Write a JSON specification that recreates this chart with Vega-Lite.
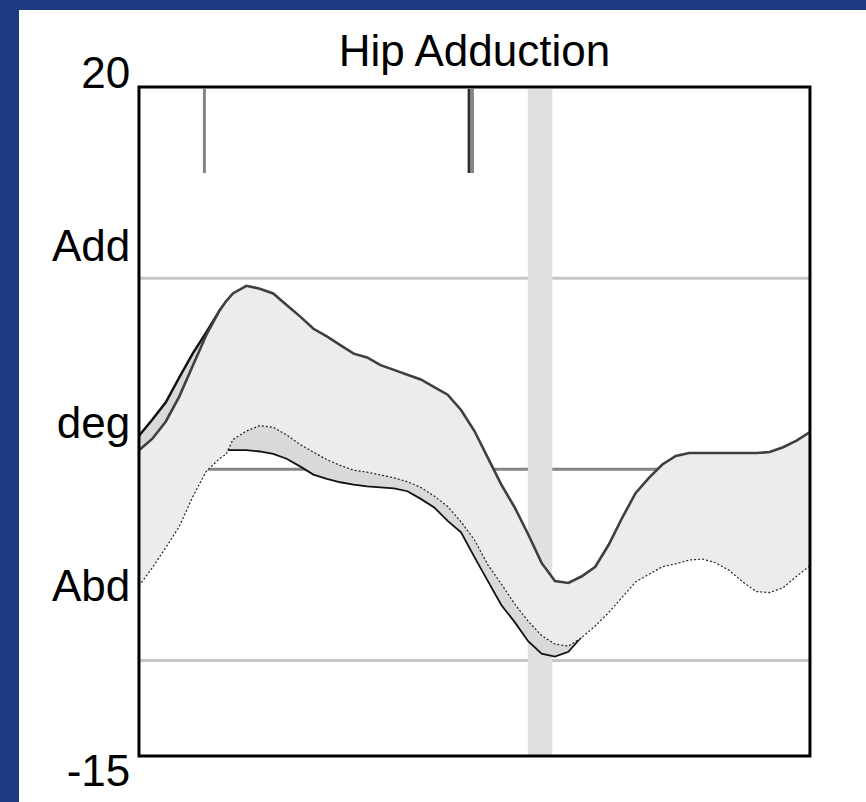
{
  "$schema": "https://vega.github.io/schema/vega-lite/v6.json",
  "autosize": {"type": "none"},
  "padding": {"left": 19, "top": 10, "right": 0, "bottom": 0},
  "width": 847,
  "height": 792,
  "background": "#1B3A80",
  "config": {"view": {"fill": "white", "stroke": null}, "font": "Liberation Sans"},
  "datasets": {
    "curves": [
      {"pct": 0, "A": 1.0, "B": 1.75, "C": -6.1, "L2": -5.5},
      {"pct": 2, "A": 1.6, "B": 2.6, "C": -5.15, "L2": -4.6},
      {"pct": 4, "A": 2.5, "B": 3.5, "C": -4.1, "L2": -3.6},
      {"pct": 6, "A": 3.8, "B": 4.8, "C": -3.0, "L2": -2.5},
      {"pct": 8, "A": 5.4, "B": 6.05, "C": -1.45, "L2": -1.0},
      {"pct": 10, "A": 7.0, "B": 7.15, "C": -0.12, "L2": 0.3},
      {"pct": 12, "A": 8.3, "B": 8.3, "C": 0.55, "L2": 0.9},
      {"pct": 13, "A": 8.8, "B": 8.75, "C": 0.8, "L2": 1.0},
      {"pct": 14, "A": 9.2, "B": 9.1, "C": 1.55, "L2": 1.0},
      {"pct": 16, "A": 9.6, "B": 9.3, "C": 2.0, "L2": 1.0},
      {"pct": 18, "A": 9.45, "B": 9.15, "C": 2.28, "L2": 0.93},
      {"pct": 20, "A": 9.2, "B": 8.9, "C": 2.2, "L2": 0.8},
      {"pct": 22, "A": 8.6, "B": 8.3, "C": 1.8, "L2": 0.55},
      {"pct": 24, "A": 8.0, "B": 7.7, "C": 1.3, "L2": 0.15},
      {"pct": 26, "A": 7.35, "B": 7.05, "C": 0.9, "L2": -0.28},
      {"pct": 28, "A": 6.95, "B": 6.65, "C": 0.5, "L2": -0.5},
      {"pct": 30, "A": 6.5, "B": 6.2, "C": 0.2, "L2": -0.68},
      {"pct": 32, "A": 6.05, "B": 5.75, "C": -0.05, "L2": -0.8},
      {"pct": 34, "A": 5.85, "B": 5.55, "C": -0.15, "L2": -0.9},
      {"pct": 36, "A": 5.45, "B": 5.15, "C": -0.3, "L2": -0.95},
      {"pct": 38, "A": 5.2, "B": 4.9, "C": -0.45, "L2": -1.0},
      {"pct": 40, "A": 4.95, "B": 4.65, "C": -0.65, "L2": -1.15},
      {"pct": 42, "A": 4.7, "B": 4.4, "C": -0.95, "L2": -1.55},
      {"pct": 44, "A": 4.3, "B": 4.0, "C": -1.4, "L2": -2.0},
      {"pct": 46, "A": 3.9, "B": 3.6, "C": -1.95, "L2": -2.7},
      {"pct": 48, "A": 3.1, "B": 2.8, "C": -2.75, "L2": -3.3},
      {"pct": 50, "A": 2.0, "B": 1.7, "C": -3.7, "L2": -4.6},
      {"pct": 52, "A": 0.6, "B": 0.3, "C": -5.0, "L2": -5.85},
      {"pct": 54, "A": -0.8, "B": -1.1, "C": -6.0, "L2": -7.1},
      {"pct": 56, "A": -2.0, "B": -2.3, "C": -7.05, "L2": -8.0},
      {"pct": 58, "A": -3.4, "B": -3.7, "C": -7.95, "L2": -9.0},
      {"pct": 60, "A": -4.9, "B": -5.2, "C": -8.7, "L2": -9.65},
      {"pct": 62, "A": -5.85, "B": -6.1, "C": -9.15, "L2": -9.8},
      {"pct": 64, "A": -5.95, "B": -6.2, "C": -9.25, "L2": -9.55},
      {"pct": 66, "A": -5.6, "B": -5.9, "C": -8.8, "L2": -8.75},
      {"pct": 68, "A": -5.1, "B": -5.4, "C": -8.2, "L2": -7.6},
      {"pct": 70, "A": -3.95, "B": -4.25, "C": -7.5, "L2": -6.9},
      {"pct": 72, "A": -2.55, "B": -2.85, "C": -6.7, "L2": -6.1},
      {"pct": 74, "A": -1.25, "B": -1.55, "C": -5.9, "L2": -5.3},
      {"pct": 76, "A": -0.45, "B": -0.75, "C": -5.5, "L2": -4.9},
      {"pct": 78, "A": 0.25, "B": -0.05, "C": -5.1, "L2": -4.5},
      {"pct": 80, "A": 0.7, "B": 0.4, "C": -4.95, "L2": -4.35},
      {"pct": 82, "A": 0.85, "B": 0.55, "C": -4.75, "L2": -4.15},
      {"pct": 84, "A": 0.85, "B": 0.55, "C": -4.7, "L2": -4.1},
      {"pct": 86, "A": 0.85, "B": 0.55, "C": -4.9, "L2": -4.3},
      {"pct": 88, "A": 0.85, "B": 0.55, "C": -5.3, "L2": -4.7},
      {"pct": 90, "A": 0.85, "B": 0.55, "C": -5.9, "L2": -5.3},
      {"pct": 92, "A": 0.85, "B": 0.55, "C": -6.4, "L2": -5.8},
      {"pct": 94, "A": 0.9, "B": 0.6, "C": -6.45, "L2": -5.85},
      {"pct": 96, "A": 1.15, "B": 0.85, "C": -6.2, "L2": -5.6},
      {"pct": 98, "A": 1.5, "B": 1.2, "C": -5.6, "L2": -5.0},
      {"pct": 100, "A": 1.95, "B": 1.65, "C": -5.05, "L2": -4.45}
    ],
    "levels": [
      {"level": 10, "kind": "limit"},
      {"level": 0, "kind": "zero"},
      {"level": -10, "kind": "limit"}
    ],
    "toeoff": [{"start": 57.95, "end": 61.6}],
    "events": [
      {"pct": 9.75, "side": "eventGray"},
      {"pct": 49.2, "side": "eventDark"},
      {"pct": 49.7, "side": "eventGray"}
    ],
    "labels": [
      {"text": "20", "value": 20.63},
      {"text": "Add", "value": 11.6},
      {"text": "deg", "value": 2.3},
      {"text": "Abd", "value": -6.2},
      {"text": "-15", "value": -15.9}
    ]
  },
  "layer": [
    {
      "data": {"name": "levels"},
      "mark": {"type": "rule", "strokeWidth": 3},
      "encoding": {
        "x": {"datum": 0, "type": "quantitative", "scale": {"domain": [-17.88, 108.35], "nice": false, "zero": false}, "axis": null},
        "x2": {"datum": 100},
        "y": {"field": "level", "type": "quantitative", "scale": {"domain": [-17.41, 24.03], "nice": false, "zero": false}, "axis": null},
        "color": {"field": "kind", "type": "nominal", "scale": {"domain": ["limit", "zero", "eventGray", "eventDark"], "range": ["#C6C6C6", "#858585", "#858585", "#2E2E2E"]}, "legend": null}
      }
    },
    {
      "data": {"name": "toeoff"},
      "mark": {"type": "rect", "color": "#E0E0E0"},
      "encoding": {
        "x": {"field": "start", "type": "quantitative", "scale": {"domain": [-17.88, 108.35], "nice": false, "zero": false}, "axis": null},
        "x2": {"field": "end"},
        "y": {"datum": -15, "type": "quantitative", "scale": {"domain": [-17.41, 24.03], "nice": false, "zero": false}, "axis": null},
        "y2": {"datum": 19.9}
      }
    },
    {
      "data": {"name": "curves"},
      "mark": {"type": "area", "color": "#D9D9D9"},
      "encoding": {
        "x": {"field": "pct", "type": "quantitative", "scale": {"domain": [-17.88, 108.35], "nice": false, "zero": false}, "axis": null},
        "y": {"field": "B", "type": "quantitative", "scale": {"domain": [-17.41, 24.03], "nice": false, "zero": false}, "axis": null},
        "y2": {"field": "L2"}
      }
    },
    {
      "data": {"name": "curves"},
      "mark": {"type": "line", "color": "#111111", "strokeWidth": 2.5},
      "encoding": {
        "x": {"field": "pct", "type": "quantitative", "scale": {"domain": [-17.88, 108.35], "nice": false, "zero": false}, "axis": null},
        "y": {"field": "B", "type": "quantitative", "scale": {"domain": [-17.41, 24.03], "nice": false, "zero": false}, "axis": null}
      }
    },
    {
      "data": {"name": "curves"},
      "mark": {"type": "line", "color": "#111111", "strokeWidth": 1.8},
      "encoding": {
        "x": {"field": "pct", "type": "quantitative", "scale": {"domain": [-17.88, 108.35], "nice": false, "zero": false}, "axis": null},
        "y": {"field": "L2", "type": "quantitative", "scale": {"domain": [-17.41, 24.03], "nice": false, "zero": false}, "axis": null}
      }
    },
    {
      "data": {"name": "curves"},
      "mark": {"type": "area", "color": "#ECECEC"},
      "encoding": {
        "x": {"field": "pct", "type": "quantitative", "scale": {"domain": [-17.88, 108.35], "nice": false, "zero": false}, "axis": null},
        "y": {"field": "A", "type": "quantitative", "scale": {"domain": [-17.41, 24.03], "nice": false, "zero": false}, "axis": null},
        "y2": {"field": "C"}
      }
    },
    {
      "data": {"name": "curves"},
      "mark": {"type": "line", "color": "#3F3F3F", "strokeWidth": 2.6},
      "encoding": {
        "x": {"field": "pct", "type": "quantitative", "scale": {"domain": [-17.88, 108.35], "nice": false, "zero": false}, "axis": null},
        "y": {"field": "A", "type": "quantitative", "scale": {"domain": [-17.41, 24.03], "nice": false, "zero": false}, "axis": null}
      }
    },
    {
      "data": {"name": "curves"},
      "mark": {"type": "line", "color": "#222222", "strokeWidth": 1.2, "strokeDash": [2, 2]},
      "encoding": {
        "x": {"field": "pct", "type": "quantitative", "scale": {"domain": [-17.88, 108.35], "nice": false, "zero": false}, "axis": null},
        "y": {"field": "C", "type": "quantitative", "scale": {"domain": [-17.41, 24.03], "nice": false, "zero": false}, "axis": null}
      }
    },
    {
      "data": {"name": "events"},
      "mark": {"type": "rule", "strokeWidth": 3},
      "encoding": {
        "x": {"field": "pct", "type": "quantitative", "scale": {"domain": [-17.88, 108.35], "nice": false, "zero": false}, "axis": null},
        "y": {"datum": 19.9, "type": "quantitative", "scale": {"domain": [-17.41, 24.03], "nice": false, "zero": false}, "axis": null},
        "y2": {"datum": 15.5},
        "color": {"field": "side", "type": "nominal", "scale": {"domain": ["limit", "zero", "eventGray", "eventDark"], "range": ["#C6C6C6", "#858585", "#858585", "#2E2E2E"]}, "legend": null}
      }
    },
    {
      "data": {"values": [{}]},
      "mark": {"type": "rect", "fill": null, "filled": false, "stroke": "black", "strokeWidth": 3},
      "encoding": {
        "x": {"datum": 0, "type": "quantitative", "scale": {"domain": [-17.88, 108.35], "nice": false, "zero": false}, "axis": null},
        "x2": {"datum": 100},
        "y": {"datum": -15, "type": "quantitative", "scale": {"domain": [-17.41, 24.03], "nice": false, "zero": false}, "axis": null},
        "y2": {"datum": 20}
      }
    },
    {
      "data": {"name": "labels"},
      "mark": {"type": "text", "align": "right", "baseline": "middle", "fontSize": 44, "color": "black"},
      "encoding": {
        "x": {"datum": -1.3, "type": "quantitative", "scale": {"domain": [-17.88, 108.35], "nice": false, "zero": false}, "axis": null},
        "y": {"field": "value", "type": "quantitative", "scale": {"domain": [-17.41, 24.03], "nice": false, "zero": false}, "axis": null},
        "text": {"field": "text"}
      }
    },
    {
      "data": {"values": [{}]},
      "mark": {"type": "text", "text": "Hip Adduction", "align": "center", "baseline": "middle", "fontSize": 44, "color": "black"},
      "encoding": {
        "x": {"datum": 50, "type": "quantitative", "scale": {"domain": [-17.88, 108.35], "nice": false, "zero": false}, "axis": null},
        "y": {"datum": 21.8, "type": "quantitative", "scale": {"domain": [-17.41, 24.03], "nice": false, "zero": false}, "axis": null}
      }
    }
  ]
}
